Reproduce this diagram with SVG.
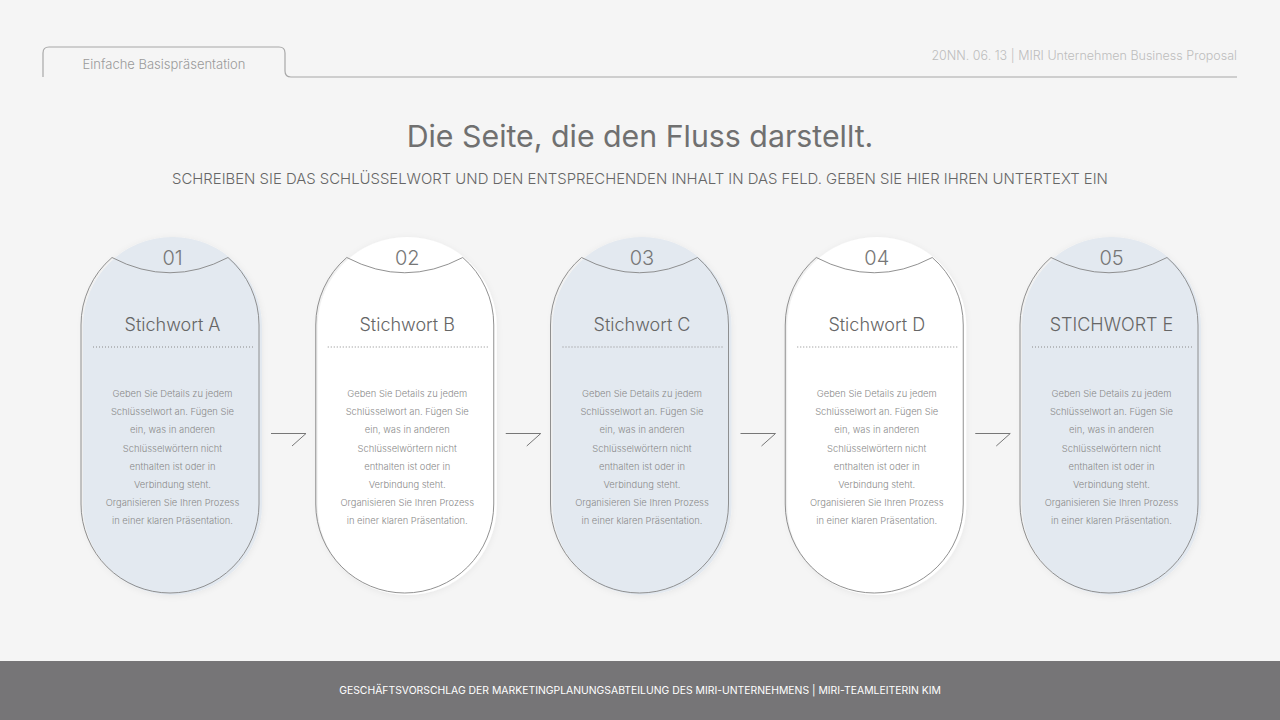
<svg xmlns="http://www.w3.org/2000/svg" width="1280" height="720" viewBox="0 0 1280 720">
<defs>
<style>
text{font-family:Inter,"Noto Sans","Liberation Sans",sans-serif}
.num{font-size:20px;fill:#777;font-weight:300;text-anchor:middle}
.kw{font-size:18px;fill:#666;font-weight:300;text-anchor:middle}
.body{font-size:9.4px;fill:#8a8a8a;font-weight:300;text-anchor:middle}
.outline{fill:none;stroke:#858585;stroke-width:0.9}
.dots{stroke:#8a8a8a;stroke-width:1;stroke-dasharray:1 2}
.blue{fill:#e3e9f0}
.white{fill:#ffffff}
.arrow{fill:none;stroke:#777;stroke-width:1}
</style>
<filter id="sh" x="-20%" y="-20%" width="140%" height="140%">
<feDropShadow dx="0" dy="1" stdDeviation="3" flood-color="#000" flood-opacity="0.06"/>
</filter>
<path id="ol" d="M81,504 L81,325 A89,89 0 0 1 112,257.5 Q170,288 228,257.5 A89,89 0 0 1 259,325 L259,504 A89,89 0 0 1 81,504 Z"/>
</defs>
<rect width="1280" height="720" fill="#f5f5f5"/>

<g id="header">
<path d="M43,77 L43,53 Q43,47 49,47 L279,47 Q285,47 285,53 L285,71 Q285,77 291,77 L1237,77" fill="none" stroke="#a8a8a8" stroke-width="1.2"/>
<text x="164" y="68.5" style="font-size:13px;fill:#9a9a9a;text-anchor:middle;font-weight:300">Einfache Basispräsentation</text>
<text x="1237" y="60" style="font-size:12.5px;fill:#bdbdbd;text-anchor:end;font-weight:300">20NN. 06. 13 | MIRI Unternehmen Business Proposal</text>
</g>

<g id="title">
<text x="640" y="147" style="font-size:30.3px;fill:#707070;text-anchor:middle">Die Seite, die den Fluss darstellt.</text>
<text x="640" y="184" style="font-size:14.9px;fill:#666;text-anchor:middle;font-weight:300">SCHREIBEN SIE DAS SCHLÜSSELWORT UND DEN ENTSPRECHENDEN INHALT IN DAS FELD. GEBEN SIE HIER IHREN UNTERTEXT EIN</text>
</g>

<g id="card1">
<rect class="blue" x="83" y="237" width="179" height="358" rx="89.5" filter="url(#sh)"/>
<use href="#ol" class="outline"/>
<text class="num" x="172.5" y="265">01</text>
<text class="kw" x="172.5" y="331">Stichwort A</text>
<line class="dots" x1="93" y1="347" x2="253" y2="347"/>
<text class="body" x="172.5" y="397">Geben Sie Details zu jedem</text>
<text class="body" x="172.5" y="415">Schlüsselwort an. Fügen Sie</text>
<text class="body" x="172.5" y="433">ein, was in anderen</text>
<text class="body" x="172.5" y="451.5">Schlüsselwörtern nicht</text>
<text class="body" x="172.5" y="469.5">enthalten ist oder in</text>
<text class="body" x="172.5" y="488">Verbindung steht.</text>
<text class="body" x="172.5" y="506">Organisieren Sie Ihren Prozess</text>
<text class="body" x="172.5" y="524">in einer klaren Präsentation.</text>
</g>

<g id="card2" transform="translate(234.75,0)">
<rect class="white" x="83" y="237" width="179" height="358" rx="89.5" filter="url(#sh)"/>
<use href="#ol" class="outline"/>
<text class="num" x="172.5" y="265">02</text>
<text class="kw" x="172.5" y="331">Stichwort B</text>
<line class="dots" x1="93" y1="347" x2="253" y2="347"/>
<text class="body" x="172.5" y="397">Geben Sie Details zu jedem</text>
<text class="body" x="172.5" y="415">Schlüsselwort an. Fügen Sie</text>
<text class="body" x="172.5" y="433">ein, was in anderen</text>
<text class="body" x="172.5" y="451.5">Schlüsselwörtern nicht</text>
<text class="body" x="172.5" y="469.5">enthalten ist oder in</text>
<text class="body" x="172.5" y="488">Verbindung steht.</text>
<text class="body" x="172.5" y="506">Organisieren Sie Ihren Prozess</text>
<text class="body" x="172.5" y="524">in einer klaren Präsentation.</text>
</g>

<g id="card3" transform="translate(469.5,0)">
<rect class="blue" x="83" y="237" width="179" height="358" rx="89.5" filter="url(#sh)"/>
<use href="#ol" class="outline"/>
<text class="num" x="172.5" y="265">03</text>
<text class="kw" x="172.5" y="331">Stichwort C</text>
<line class="dots" x1="93" y1="347" x2="253" y2="347"/>
<text class="body" x="172.5" y="397">Geben Sie Details zu jedem</text>
<text class="body" x="172.5" y="415">Schlüsselwort an. Fügen Sie</text>
<text class="body" x="172.5" y="433">ein, was in anderen</text>
<text class="body" x="172.5" y="451.5">Schlüsselwörtern nicht</text>
<text class="body" x="172.5" y="469.5">enthalten ist oder in</text>
<text class="body" x="172.5" y="488">Verbindung steht.</text>
<text class="body" x="172.5" y="506">Organisieren Sie Ihren Prozess</text>
<text class="body" x="172.5" y="524">in einer klaren Präsentation.</text>
</g>

<g id="card4" transform="translate(704.25,0)">
<rect class="white" x="83" y="237" width="179" height="358" rx="89.5" filter="url(#sh)"/>
<use href="#ol" class="outline"/>
<text class="num" x="172.5" y="265">04</text>
<text class="kw" x="172.5" y="331">Stichwort D</text>
<line class="dots" x1="93" y1="347" x2="253" y2="347"/>
<text class="body" x="172.5" y="397">Geben Sie Details zu jedem</text>
<text class="body" x="172.5" y="415">Schlüsselwort an. Fügen Sie</text>
<text class="body" x="172.5" y="433">ein, was in anderen</text>
<text class="body" x="172.5" y="451.5">Schlüsselwörtern nicht</text>
<text class="body" x="172.5" y="469.5">enthalten ist oder in</text>
<text class="body" x="172.5" y="488">Verbindung steht.</text>
<text class="body" x="172.5" y="506">Organisieren Sie Ihren Prozess</text>
<text class="body" x="172.5" y="524">in einer klaren Präsentation.</text>
</g>

<g id="card5" transform="translate(939,0)">
<rect class="blue" x="83" y="237" width="179" height="358" rx="89.5" filter="url(#sh)"/>
<use href="#ol" class="outline"/>
<text class="num" x="172.5" y="265">05</text>
<text class="kw" x="172.5" y="331">STICHWORT E</text>
<line class="dots" x1="93" y1="347" x2="253" y2="347"/>
<text class="body" x="172.5" y="397">Geben Sie Details zu jedem</text>
<text class="body" x="172.5" y="415">Schlüsselwort an. Fügen Sie</text>
<text class="body" x="172.5" y="433">ein, was in anderen</text>
<text class="body" x="172.5" y="451.5">Schlüsselwörtern nicht</text>
<text class="body" x="172.5" y="469.5">enthalten ist oder in</text>
<text class="body" x="172.5" y="488">Verbindung steht.</text>
<text class="body" x="172.5" y="506">Organisieren Sie Ihren Prozess</text>
<text class="body" x="172.5" y="524">in einer klaren Präsentation.</text>
</g>

<g id="connectors">
<path class="arrow" d="M271,433.5 L306,433.5 L292,446"/>
<path class="arrow" d="M505.75,433.5 L540.75,433.5 L526.75,446"/>
<path class="arrow" d="M740.5,433.5 L775.5,433.5 L761.5,446"/>
<path class="arrow" d="M975.25,433.5 L1010.25,433.5 L996.25,446"/>
</g>

<g id="footer">
<rect x="0" y="661" width="1280" height="59" fill="#767577"/>
<text x="640" y="694" style="font-size:10.4px;fill:#ffffff;text-anchor:middle">GESCHÄFTSVORSCHLAG DER MARKETINGPLANUNGSABTEILUNG DES MIRI-UNTERNEHMENS | MIRI-TEAMLEITERIN KIM</text>
</g>
</svg>
